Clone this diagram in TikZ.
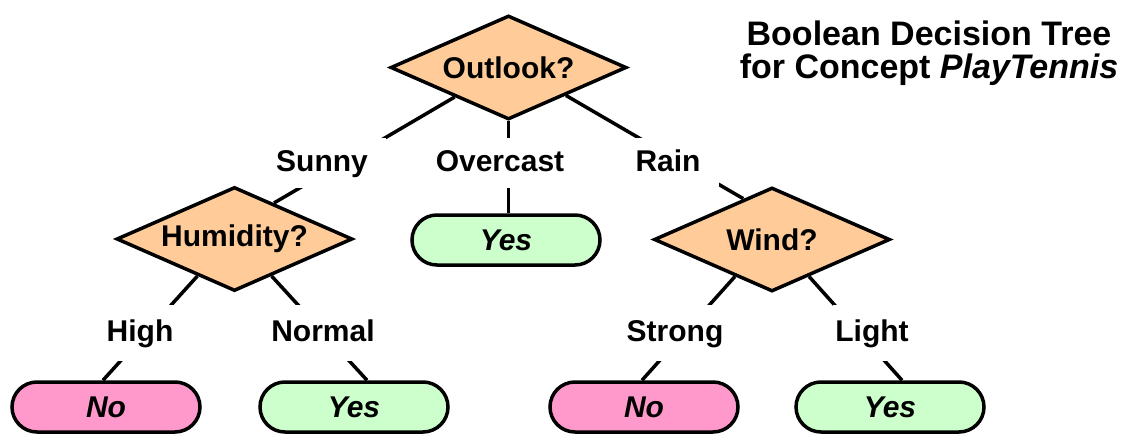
\documentclass[tikz,border=0pt]{standalone}
\usepackage{fontspec}
\setmainfont{Liberation Sans}
\usetikzlibrary{shapes.geometric,calc}
\definecolor{peach}{RGB}{255,204,153}
\definecolor{mint}{RGB}{204,255,204}
\definecolor{pinkno}{RGB}{255,153,204}
\begin{document}
\begin{tikzpicture}[x=1pt,y=-1pt,
  lw/.style={line width=3.5pt},
  test/.style={shape=diamond, aspect=2.3, draw, lw, fill=peach, minimum width=236pt, minimum height=104pt, inner sep=0pt, font=\bfseries\fontsize{30}{32}\selectfont},
  leaf/.style={draw, lw, rounded corners=25pt, minimum width=188pt, minimum height=50pt, inner sep=0pt, font=\bfseries\itshape\fontsize{30}{32}\selectfont},
  yesleaf/.style={leaf, fill=mint},
  noleaf/.style={leaf, fill=pinkno},
  lbl/.style={fill=white, inner xsep=18pt, inner ysep=0pt, text height=22pt, text depth=6pt, minimum height=50pt, font=\bfseries\fontsize{30}{32}\selectfont},
  lbltwo/.style={lbl, minimum height=56pt, inner xsep=2pt},
  edge/.style={lw}]
\useasboundingbox (0,0) rectangle (1136,434);
% decision nodes
\node[test] (out) at (508.5,67.5) {Outlook?};
\node[test] (hum) at (234.5,239) {Humidity?};
\node[test] (wind) at (772,239.5) {Wind?};
% leaves
\node[yesleaf] (yes1) at (506,240) {Yes};
\node[noleaf] (no1) at (106,407) {No};
\node[yesleaf] (yes2) at (354,407) {Yes};
\node[noleaf] (no2) at (644,407) {No};
\node[yesleaf] (yes3) at (890,407) {Yes};
% edges level 1
\draw[edge] ($(out.south)!0.45!(out.west)$) -- ($(hum.north)!0.33!(hum.east)$);
\node[lbl] (sunny) at (322,163) {Sunny};
\draw[edge] (out.south) -- (out.south |- yes1.north);
\node[lbl] (overcast) at (500,163) {Overcast};
\draw[edge] ($(out.south)!0.48!(out.east)$) -- ($(wind.north)!0.24!(wind.west)$);
\node[lbl] (rain) at (668,163) {Rain};
% edges level 2
\draw[edge] ($(hum.south)!0.31!(hum.west)$) -- ([xshift=-3pt]no1.north);
\node[lbltwo] (high) at (140,333) {High};
\draw[edge] ($(hum.south)!0.31!(hum.east)$) -- ([xshift=13pt]yes2.north);
\node[lbltwo] (normal) at (323,333) {Normal};
\draw[edge] ($(wind.south)!0.31!(wind.west)$) -- ([xshift=-2pt]no2.north);
\node[lbltwo] (strong) at (675,333) {Strong};
\draw[edge] ($(wind.south)!0.31!(wind.east)$) -- ([xshift=12pt]yes3.north);
\node[lbltwo] (light) at (872,333) {Light};
% title
\node[align=center, font=\bfseries\fontsize{34}{33}\selectfont] (title) at (929,53) {Boolean Decision Tree\\for Concept \textit{PlayTennis}};
\end{tikzpicture}
\end{document}
